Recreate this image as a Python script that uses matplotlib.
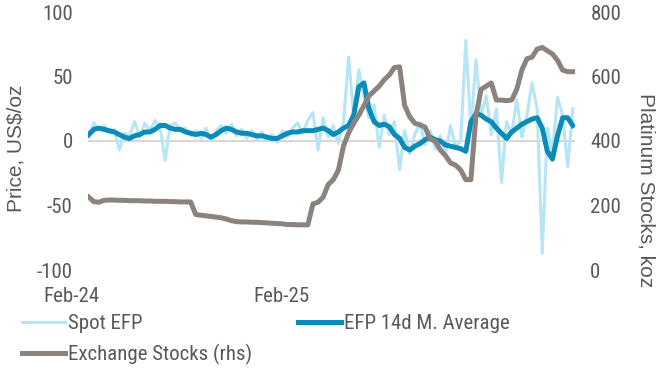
import numpy as np
import pandas as pd
import matplotlib
matplotlib.use('Agg')
import matplotlib.pyplot as plt
import matplotlib.transforms as mtransforms
from matplotlib import font_manager

# weekly observations, Feb-2024 onwards
dates = pd.date_range('2024-02-02', periods=96, freq='7D')

# spot EFP, US$/oz
spot_efp = [3, 14, 8, 12, 6, 9, -7, 6, 4, 15, 3, 14, 8, 16, 10, -15,
            12, 14, 8, 10, 4, 8, 2, 10, 0, 8, 12, 6, 13, 4, 9, 2,
            8, 1, 7, 0, 5, -1, 8, 3, 10, 14, 6, 16, 22, -7, 18, 3,
            12, -2, 15, 65, 20, 55, 35, 18, 28, -5, 20, 5, 15, -22,
            8, -10, 5, 14, -3, 8, -6, 4, -10, 12, -5, 0, 78, 10,
            63, 20, 35, 5, 25, -32, 15, 5, 32, 3, 20, 45, 25, -87,
            10, -10, 34, 20, -20, 25]

# 14-day moving average of the EFP, US$/oz
efp_avg = [5, 9, 10, 9, 8, 7, 5, 3, 2, 4, 5, 7, 7, 9, 12, 12,
           10, 9, 9, 7, 6, 5, 6, 5, 3, 5, 8, 10, 9, 7, 6, 6,
           5, 4, 4, 3, 2, 2, 4, 6, 7, 7, 8, 8, 8, 9, 10, 8,
           5, 7, 10, 12, 20, 42, 45, 25, 15, 12, 13, 11, 5, 2,
           -5, -7, -4, -2, 1, 3, 1, 0, -3, -4, -5, -6, -8, 15,
           21, 20, 17, 15, 10, 6, 2, 7, 10, 13, 15, 17, 18, 10,
           -8, -14, 4, 18, 18, 12]

# exchange platinum stocks, koz
stocks = [226, 212, 210, 216, 217, 217, 216, 216, 215, 215, 215, 214,
          214, 213, 213, 213, 212, 212, 211, 211, 211, 172, 170, 168,
          166, 164, 162, 158, 153, 150, 149, 149, 148, 148, 147, 146,
          145, 144, 143, 141, 141, 140, 140, 140, 205, 210, 226, 265,
          280, 310, 385, 425, 455, 480, 510, 540, 555, 570, 590, 605,
          628, 630, 510, 475, 455, 450, 443, 406, 400, 372, 355, 332,
          325, 310, 280, 280, 480, 560, 570, 580, 527, 527, 525, 527,
          560, 620, 655, 660, 685, 690, 680, 670, 650, 620, 615, 615]

price_ticks = [-100, -50, 0, 50, 100]
stock_ticks = [0, 200, 400, 600, 800]
date_labels = ['Feb-24', 'Feb-25']
date_label_pos = [-0.035, 0.398]

c_spot = '#b6e5f6'
c_avg = '#0b8bb8'
c_stock = '#8b837e'
c_text = '#595959'

# horizontal labels use a narrow face if one is around
names = {f.name for f in font_manager.fontManager.ttflist}
narrow, hsize = 'Liberation Sans', 12.5
for cand in ['Liberation Sans Narrow', 'Roboto Condensed', 'DejaVu Sans Condensed',
             'Open Sans Condensed', 'Noto Sans Condensed']:
    if cand in names:
        narrow, hsize = cand, 15
        break
plt.rcParams['font.family'] = 'Liberation Sans'
plt.rcParams['axes.unicode_minus'] = False

fig = plt.figure(figsize=(6.58, 3.74), dpi=100)
ax = fig.add_axes([88 / 658, 1 - 270 / 374, 487 / 658, 258 / 374])
ax2 = ax.twinx()

ax.axhline(0, color='#d3cccc', lw=1.2, zorder=1)
l1, = ax.plot(dates, spot_efp, color=c_spot, lw=2.2, zorder=2)
l2, = ax.plot(dates, efp_avg, color=c_avg, lw=3.6, zorder=3)
l3, = ax2.plot(dates, stocks, color=c_stock, lw=3.6)

ax.set_xlim(dates[0] - pd.Timedelta(days=1), dates[-1] + pd.Timedelta(days=3))
ax.set_ylim(-100, 100)
ax2.set_ylim(0, 800)
ax.set_yticks(price_ticks)
ax2.set_yticks(stock_ticks)
ax.set_xticks([])

for a in (ax, ax2):
    for s in a.spines.values():
        s.set_visible(False)
ax.tick_params(axis='y', length=0, pad=11, labelsize=hsize, labelcolor=c_text)
ax2.tick_params(axis='y', length=0, pad=11, labelsize=hsize, labelcolor=c_text)
for lab in ax.get_yticklabels() + ax2.get_yticklabels():
    lab.set_fontfamily(narrow)

trans = mtransforms.blended_transform_factory(ax.transAxes, fig.transFigure)
for pos, lab in zip(date_label_pos, date_labels):
    ax.text(pos, 1 - 297 / 374, lab, transform=trans, ha='center', va='center',
            fontsize=hsize, color=c_text, family=narrow)

fig.text(16 / 658, 1 - 148 / 374, 'Price, US$/oz', rotation=90, ha='center',
         va='center', fontsize=15, color=c_text)
fig.text(646 / 658, 1 - 190 / 374, 'Platinum Stocks, koz', rotation=270,
         ha='center', va='center', fontsize=15, color=c_text)

leg = fig.legend([l1, l3, l2], ['Spot EFP', 'Exchange Stocks (rhs)', 'EFP 14d M. Average'],
                 ncol=2, loc='upper left', bbox_to_anchor=(14 / 658, 1 - 306 / 374),
                 frameon=False, handlelength=2.4 * 15 / hsize * 0.85,
                 handletextpad=0.15, columnspacing=2.6 * 15 / hsize * 0.85,
                 labelspacing=0.5 * 15 / hsize, borderaxespad=0,
                 prop={'family': narrow, 'size': hsize})
for t in leg.get_texts():
    t.set_color(c_text)

fig.savefig('out.png', dpi=100)
